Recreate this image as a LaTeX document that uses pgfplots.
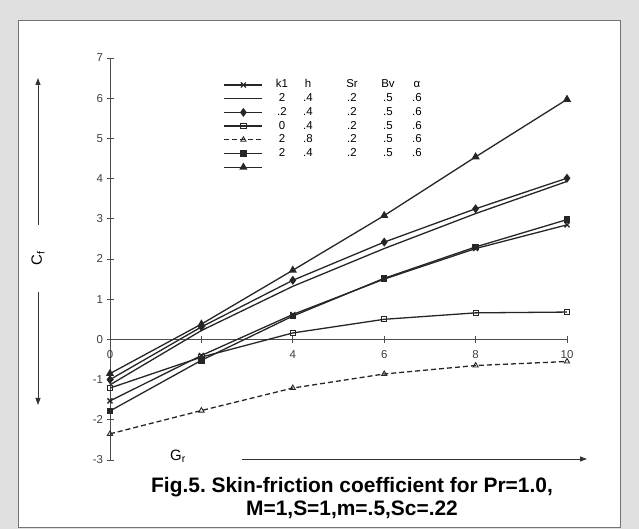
\documentclass[border=0pt]{standalone}
\usepackage{pgfplots}
\pgfplotsset{compat=1.18}
\usepackage{fontspec}
\setmainfont{Liberation Sans}
\usetikzlibrary{arrows.meta}
\frenchspacing
\newcommand{\lr}[5]{\hspace*{6bp}\makebox[24bp][c]{#1}\makebox[28bp][c]{#2}\makebox[60bp][c]{#3}\makebox[12bp][c]{#4}\makebox[46bp][c]{#5}}
\begin{document}
\begin{tikzpicture}[x=1bp,y=1bp]
\useasboundingbox (0,0) rectangle (639,529);
\fill[black!12] (0,0) rectangle (639,529);
\fill[white] (18,2) rectangle (620,509);
\draw[black!55, line width=0.8bp] (18,2) rectangle (620,509);
\begin{axis}[
  at={(110bp,69bp)}, anchor=south west,
  scale only axis, width=457bp, height=402bp,
  xmin=0, xmax=10, ymin=-3, ymax=7,
  axis x line*=middle, axis y line*=left,
  hide obscured x ticks=false, hide obscured y ticks=false,
  axis line style={black!70, line width=0.8bp},
  clip=false,
  xtick={0,2,4,6,8,10}, xticklabels={0,,4,6,8,10},
  ytick={-3,-2,-1,0,1,2,3,4,5,6,7},
  tick align=center, major tick length=7bp,
  tick style={black!70, line width=0.8bp},
  tick label style={font=\fontsize{11.5}{13}\selectfont, text=black!75},
  xticklabel style={yshift=-4bp},
  /pgf/number format/assume math mode=true,
  every axis plot/.append style={line width=1.3bp, black!85},
  mark size=3bp,
  legend style={draw=none, fill=none, at={(axis cs:2.49,6.49)}, anchor=north west,
    font=\fontsize{11.5}{13}\selectfont, row sep=0.7bp, inner sep=0pt, outer sep=0pt,
    nodes={inner sep=1bp, text height=8.5bp, text depth=2.5bp}},
  legend cell align=left,
  legend image code/.code={\draw[mark repeat=2,mark phase=2,line width=1.2bp,#1] plot coordinates {(0bp,0bp) (19bp,0bp) (38bp,0bp)};},
]
\addplot[mark=x, mark size=3.5bp] coordinates {(0,-1.53) (2,-0.40) (4,0.62) (6,1.50) (8,2.26) (10,2.85)};
\addlegendentry{\lr{k1}{h}{Sr}{Bv}{α}}
\addplot[no marks] coordinates {(0,-1.13) (2,0.22) (4,1.32) (6,2.26) (8,3.13) (10,3.93)};
\addlegendentry{\lr{2}{.4}{.2}{.5}{.6}}
\addplot[mark=diamond*, mark size=3.5bp] coordinates {(0,-1.00) (2,0.31) (4,1.47) (6,2.42) (8,3.25) (10,4.01)};
\addlegendentry{\lr{.2}{.4}{.2}{.5}{.6}}
\addplot[mark=square, mark size=2.6bp, mark options={fill=white, line width=0.9bp}] coordinates {(0,-1.21) (2,-0.44) (4,0.16) (6,0.50) (8,0.66) (10,0.68)};
\addlegendentry{\lr{0}{.4}{.2}{.5}{.6}}
\addplot[dash pattern=on 5bp off 3bp, line width=1.3bp, mark=triangle, mark size=3bp, mark options={solid, fill=white, line width=0.9bp}] coordinates {(0,-2.35) (2,-1.77) (4,-1.21) (6,-0.86) (8,-0.65) (10,-0.55)};
\addlegendentry{\lr{2}{.8}{.2}{.5}{.6}}
\addplot[mark=square*, mark size=2.6bp] coordinates {(0,-1.78) (2,-0.52) (4,0.58) (6,1.52) (8,2.30) (10,2.98)};
\addlegendentry{\lr{2}{.4}{.2}{.5}{.6}}
\addplot[mark=triangle*, mark size=3.5bp] coordinates {(0,-0.85) (2,0.38) (4,1.72) (6,3.08) (8,4.54) (10,5.97)};
\addlegendentry{}
\end{axis}
\draw[black!80, line width=0.9bp, -{Triangle[length=7bp,width=5bp]}] (38,304) -- (38,451);
\draw[black!80, line width=0.9bp, -{Triangle[length=7bp,width=5bp]}] (38,237) -- (38,124);
\node[rotate=90, font=\fontsize{15}{17}\selectfont] at (38,271) {C\textsubscript{f}};
\node[font=\fontsize{15}{17}\selectfont] at (178,73) {G\textsubscript{r}};
\draw[black!80, line width=0.9bp, -{Triangle[length=7bp,width=5bp]}] (242,70) -- (587,70);
\node[align=center, font=\bfseries\fontsize{21}{24}\selectfont] at (352,31) {Fig.5. Skin-friction coefficient for Pr=1.0,\\M=1,S=1,m=.5,Sc=.22};
\end{tikzpicture}
\end{document}
